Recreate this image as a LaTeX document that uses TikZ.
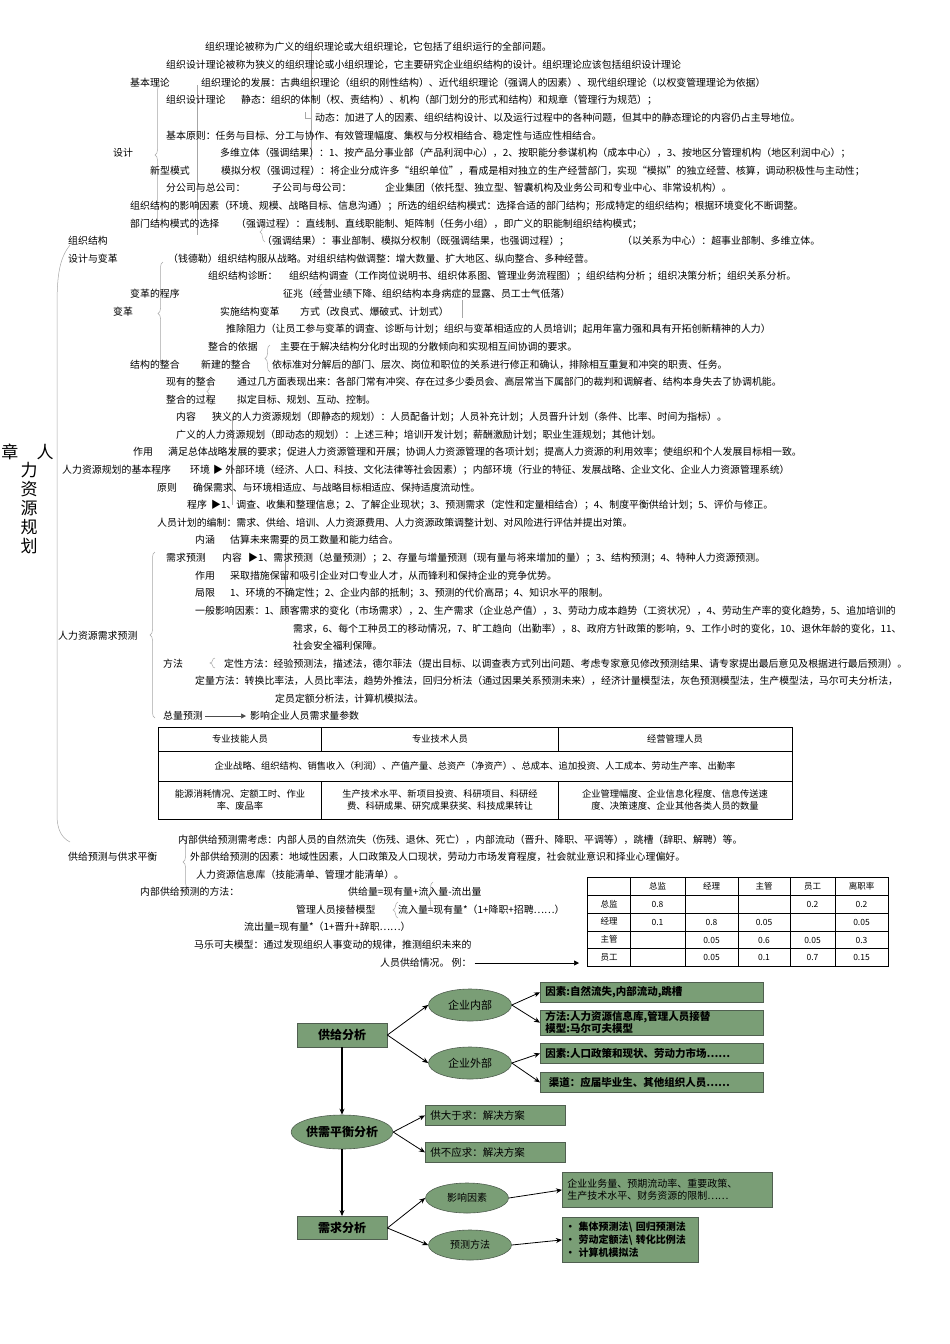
\documentclass[tikz,border=0pt]{standalone}
\usepackage{fontspec}
\setmainfont{Noto Sans CJK SC}
\usetikzlibrary{decorations.pathreplacing,arrows.meta,shapes.geometric}
\definecolor{gfill}{RGB}{122,158,118}
\definecolor{gline}{RGB}{80,95,80}
\tikzset{
 t/.style={anchor=west,inner sep=0pt,font=\fontsize{9.9}{11}\selectfont},
 br/.style={draw=gray!70,line width=0.5pt,decorate,decoration={brace,amplitude=5pt}},
 gbox/.style={draw=gline,fill=gfill,line width=0.8pt,inner xsep=5pt,inner ysep=2pt,anchor=north west,font=\fontsize{10.5}{11}\selectfont\bfseries,align=left},
 gell/.style={draw=gline,fill=gfill,ellipse,line width=0.6pt,font=\fontsize{11}{12}\selectfont},
 ar/.style={-{Stealth[length=6pt,width=5pt]},line width=0.8pt},
}
\begin{document}
\begin{tikzpicture}[x=1pt,y=-1pt]
\useasboundingbox (0,0) rectangle (950,1344);
% title
\node[inner sep=0pt,font=\fontsize{17}{18}\selectfont] (z) at (10,452) {章};
\node[inner sep=0pt,font=\fontsize{17}{18}\selectfont] (ren) at (45,452) {人};
\node[inner sep=0pt,font=\fontsize{17}{19}\selectfont,align=center,anchor=north] (rl) at (29,462) {力\\资\\源\\规\\划};
% braces / guide lines
\draw[gray!70,line width=0.5pt] (70,245) .. controls (58,260) and (57,280) .. (57,310) -- (57,815) .. controls (57,830) and (62,838) .. (70,842);
\draw[br] (160,225) -- (160,85);
\draw[br] (163,365) -- (163,262);
\draw[br] (155,718) -- (155,552);
\draw[br] (188,888) -- (188,836);
\draw[gray!70] (197,85) -- (197,235);
\draw[gray!70] (311,44) -- (311,160);
\draw[gray!70] (305,112) -- (305,118) -- (312,118);
\draw[br] (212,405) -- (212,378);
\draw[br] (270,372) -- (270,345);
\draw[br] (265,242) -- (265,222);
\draw[br] (215,668) -- (215,658);
\draw[br] (322,300) -- (322,284);
\draw[gray!70] (462,300) -- (462,318);
\draw[gray!70] (285,540) -- (285,612);
\draw[gray!70] (232,417) -- (232,505);
\draw[br] (433,912) -- (433,882);
\draw[br] (398,918) -- (398,902);
% text lines
\node[t] (a1) at (205,47) {组织理论被称为广义的组织理论或大组织理论，它包括了组织运行的全部问题。};
\node[t] (a2) at (166,65) {组织设计理论被称为狭义的组织理论或小组织理论，它主要研究企业组织结构的设计。组织理论应该包括组织设计理论};
\node[t] (a3) at (130,83) {基本理论};
\node[t] (a4) at (201,83) {组织理论的发展：古典组织理论（组织的刚性结构）、近代组织理论（强调人的因素）、现代组织理论（以权变管理理论为依据）};
\node[t] (a5) at (166,100) {组织设计理论};
\node[t] (a6) at (241,100) {静态：组织的体制（权、责结构）、机构（部门划分的形式和结构）和规章（管理行为规范）；};
\node[t] (a7) at (315,118) {动态：加进了人的因素、组织结构设计、以及运行过程中的各种问题，但其中的静态理论的内容仍占主导地位。};
\node[t] (a8) at (166,136) {基本原则：任务与目标、分工与协作、有效管理幅度、集权与分权相结合、稳定性与适应性相结合。};
\node[t] (a9) at (113,153) {设计};
\node[t] (a10) at (220,153) {多维立体（强调结果）：1、按产品分事业部（产品利润中心），2、按职能分参谋机构（成本中心），3、按地区分管理机构（地区利润中心）；};
\node[t] (a11) at (150,171) {新型模式};
\node[t] (a12) at (221,171) {模拟分权（强调过程）：将企业分成许多“组织单位”，看成是相对独立的生产经营部门，实现“模拟”的独立经营、核算，调动积极性与主动性；};
\node[t] (a13) at (166,188) {分公司与总公司：};
\node[t] (a14) at (272,188) {子公司与母公司：};
\node[t] (a15) at (385,188) {企业集团（依托型、独立型、智囊机构及业务公司和专业中心、非常设机构）。};
\node[t] (a16) at (130,206) {组织结构的影响因素（环境、规模、战略目标、信息沟通）；所选的组织结构模式：选择合适的部门结构；形成特定的组织结构；根据环境变化不断调整。};
\node[t] (a17) at (130,224) {部门结构模式的选择};
\node[t] (a18) at (236,224) {（强调过程）：直线制、直线职能制、矩阵制（任务小组），即广义的职能制组织结构模式；};
\node[t] (a19) at (68,241) {组织结构};
\node[t] (a20) at (262,241) {（强调结果）：事业部制、模拟分权制（既强调结果，也强调过程）；};
\node[t] (a21) at (622,241) {（以关系为中心）：超事业部制、多维立体。};
\node[t] (a22) at (68,259) {设计与变革};
\node[t] (a23) at (168,259) {（钱德勒）组织结构服从战略。对组织结构做调整：增大数量、扩大地区、纵向整合、多种经营。};
\node[t] (a24) at (208,276) {组织结构诊断：};
\node[t] (a25) at (289,276) {组织结构调查（工作岗位说明书、组织体系图、管理业务流程图）；组织结构分析 ；组织决策分析；组织关系分析。};
\node[t] (a26) at (130,294) {变革的程序};
\node[t] (a27) at (283,294) {征兆（经营业绩下降、组织结构本身病症的显露、员工士气低落）};
\node[t] (a28) at (113,312) {变革};
\node[t] (a29) at (220,312) {实施结构变革};
\node[t] (a30) at (300,312) {方式（改良式、爆破式、计划式）};
\node[t] (a31) at (226,329) {推除阻力（让员工参与变革的调查、诊断与计划；组织与变革相适应的人员培训；起用年富力强和具有开拓创新精神的人力）};
\node[t] (a32) at (208,347) {整合的依据};
\node[t] (a33) at (280,347) {主要在于解决结构分化时出现的分散倾向和实现相互间协调的要求。};
\node[t] (a34) at (130,365) {结构的整合};
\node[t] (a35) at (201,365) {新建的整合};
\node[t] (a36) at (272,365) {依标准对分解后的部门、层次、岗位和职位的关系进行修正和确认，排除相互重复和冲突的职责、任务。};
\node[t] (a37) at (166,382) {现有的整合};
\node[t] (a38) at (237,382) {通过几方面表现出来：各部门常有冲突、存在过多少委员会、高层常当下属部门的裁判和调解者、结构本身失去了协调机能。};
\node[t] (a39) at (166,400) {整合的过程};
\node[t] (a40) at (237,400) {拟定目标、规划、互动、控制。};
\node[t] (b1) at (176,417) {内容};
\node[t] (b2) at (212,417) {狭义的人力资源规划（即静态的规划）：人员配备计划；人员补充计划；人员晋升计划（条件、比率、时间为指标）。};
\node[t] (b3) at (176,435) {广义的人力资源规划（即动态的规划）：上述三种；培训开发计划；薪酬激励计划；职业生涯规划；其他计划。};
\node[t] (b4) at (133,452) {作用};
\node[t] (b5) at (168,452) {满足总体战略发展的要求；促进人力资源管理和开展；协调人力资源管理的各项计划；提高人力资源的利用效率；使组织和个人发展目标相一致。};
\node[t] (b6) at (62,470) {人力资源规划的基本程序};
\node[t] (b7) at (190,470) {环境};
\node[t] (b8) at (213,470) {▶ 外部环境（经济、人口、科技、文化法律等社会因素）；内部环境（行业的特征、发展战略、企业文化、企业人力资源管理系统）};
\node[t] (b9) at (157,488) {原则};
\node[t] (b10) at (193,488) {确保需求、与环境相适应、与战略目标相适应、保持适度流动性。};
\node[t] (b11) at (187,505) {程序};
\node[t] (b12) at (211,505) {▶1、调查、收集和整理信息；2、了解企业现状；3、预测需求（定性和定量相结合）；4、制度平衡供给计划；5、评价与修正。};
\node[t] (b13) at (157,523) {人员计划的编制：需求、供给、培训、人力资源费用、人力资源政策调整计划、对风险进行评估并提出对策。};
\node[t] (c1) at (195,540) {内涵};
\node[t] (c2) at (230,540) {估算未来需要的员工数量和能力结合。};
\node[t] (c3) at (166,558) {需求预测};
\node[t] (c4) at (222,558) {内容};
\node[t] (c5) at (248,558) {▶1、需求预测（总量预测）；2、存量与增量预测（现有量与将来增加的量）；3、结构预测；4、特种人力资源预测。};
\node[t] (c6) at (195,576) {作用};
\node[t] (c7) at (230,576) {采取措施保留和吸引企业对口专业人才，从而锋利和保持企业的竞争优势。};
\node[t] (c8) at (195,593) {局限};
\node[t] (c9) at (230,593) {1、环境的不确定性；2、企业内部的抵制；3、预测的代价高昂；4、知识水平的限制。};
\node[t] (c10) at (195,611) {一般影响因素：1、顾客需求的变化（市场需求），2、生产需求（企业总产值），3、劳动力成本趋势（工资状况），4、劳动生产率的变化趋势，5、追加培训的};
\node[t] (c11) at (293,629) {需求，6、每个工种员工的移动情况，7、旷工趋向（出勤率），8、政府方针政策的影响，9、工作小时的变化，10、退休年龄的变化，11、};
\node[t] (c12) at (58,636) {人力资源需求预测};
\node[t] (c13) at (293,646) {社会安全福利保障。};
\node[t] (c14) at (163,664) {方法};
\node[t] (c15) at (224,664) {定性方法：经验预测法，描述法，德尔菲法（提出目标、以调查表方式列出问题、考虑专家意见修改预测结果、请专家提出最后意见及根据进行最后预测）。};
\node[t] (c16) at (195,681) {定量方法：转换比率法，人员比率法，趋势外推法，回归分析法（通过因果关系预测未来），经济计量模型法，灰色预测模型法，生产模型法，马尔可夫分析法，};
\node[t] (c17) at (275,699) {定员定额分析法，计算机模拟法。};
\node[t] (c18) at (163,716) {总量预测};
\node[t] (c19) at (250,716) {影响企业人员需求量参数};
\draw[-{Triangle[length=5pt,width=5pt]},gray!60!black,line width=0.5pt] ([xshift=2pt]c18.east) -- ([xshift=-4pt]c19.west);
% table 1
\draw[line width=0.6pt] (158,727) rectangle (792,819);
\draw[line width=0.6pt] (158,751) -- (792,751) (158,781) -- (792,781);
\draw[line width=0.6pt] (321,727) -- (321,751) (558,727) -- (558,751) (321,781) -- (321,819) (558,781) -- (558,819);
\tikzset{tc/.style={inner sep=0pt,font=\fontsize{9.3}{11.5}\selectfont,align=center}}
\node[tc] (h1) at (240,739) {专业技能人员};
\node[tc] (h2) at (440,739) {专业技术人员};
\node[tc] (h3) at (675,739) {经营管理人员};
\node[tc] (r1) at (475,766) {企业战略、组织结构、销售收入（利润）、产值产量、总资产（净资产）、总成本、追加投资、人工成本、劳动生产率、出勤率};
\node[tc] (r2) at (240,800) {能源消耗情况、定额工时、作业\\率、废品率};
\node[tc] (r3) at (440,800) {生产技术水平、新项目投资、科研项目、科研经\\费、科研成果、研究成果获奖、科技成果转让};
\node[tc] (r4) at (675,800) {企业管理幅度、企业信息化程度、信息传送速\\度、决策速度、企业其他各类人员的数量};
% supply
\node[t] (d1) at (178,840) {内部供给预测需考虑：内部人员的自然流失（伤残、退休、死亡），内部流动（晋升、降职、平调等），跳槽（辞职、解聘）等。};
\node[t] (d2) at (68,857) {供给预测与供求平衡};
\node[t] (d3) at (190,857) {外部供给预测的因素：地域性因素，人口政策及人口现状，劳动力市场发育程度，社会就业意识和择业心理偏好。};
\node[t] (d4) at (196,875) {人力资源信息库（技能清单、管理才能清单）。};
\node[t] (d5) at (140,892) {内部供给预测的方法：};
\node[t] (d6) at (348,892) {供给量=现有量+流入量-流出量};
\node[t] (d7) at (296,910) {管理人员接替模型};
\node[t] (d8) at (398,910) {流入量=现有量*（1+降职+招聘……）};
\node[t] (d9) at (244,927) {流出量=现有量*（1+晋升+辞职……）};
\node[t] (d10) at (194,945) {马乐可夫模型：通过发现组织人事变动的规律，推测组织未来的};
\node[t] (d11) at (380,963) {人员供给情况。 例：};
% matrix table
\coordinate (tb) at (579,963);
\draw[line width=0.5pt] (587,877) rectangle (888,966);
\foreach \y in {895,913,931,948} \draw[line width=0.5pt] (587,\y) -- (888,\y);
\foreach \x in {630,685,738,790,835} \draw[line width=0.5pt] (\x,877) -- (\x,966);
\draw[-{Triangle[length=5pt,width=5pt]},line width=0.5pt] ([xshift=3pt]d11.east) -- (tb);
\tikzset{mc/.style={inner sep=0pt,font=\fontsize{8.5}{9}\selectfont}}
\foreach \s [count=\i] in {总监,经理,主管,员工,离职率}{
 \pgfmathsetmacro\xx{{0,657.5,711.5,764,812.5,861.5}[\i]}
 \node[mc] at (\xx,886) {\s};}
\foreach \s [count=\i] in {总监,经理,主管,员工}{
 \node[mc] at (609,886+\i*17.8) {\s};}
\node[mc] at (657.5,904) {0.8}; \node[mc] at (812.5,904) {0.2}; \node[mc] at (861.5,904) {0.2};
\node[mc] at (657.5,922) {0.1}; \node[mc] at (711.5,922) {0.8}; \node[mc] at (764,922) {0.05}; \node[mc] at (861.5,922) {0.05};
\node[mc] at (711.5,940) {0.05}; \node[mc] at (764,940) {0.6}; \node[mc] at (812.5,940) {0.05}; \node[mc] at (861.5,940) {0.3};
\node[mc] at (711.5,957) {0.05}; \node[mc] at (764,957) {0.1}; \node[mc] at (812.5,957) {0.7}; \node[mc] at (861.5,957) {0.15};
% flowchart
\node[draw=gline,fill=gfill,line width=0.8pt,minimum width=90pt,minimum height=24pt,font=\fontsize{12}{13}\selectfont\bfseries] (gj) at (342,1035) {供给分析};
\node[gell,minimum width=83pt,minimum height=32pt] (nb) at (470,1005) {企业内部};
\node[gell,minimum width=83pt,minimum height=32pt] (wb) at (470,1063) {企业外部};
\node[gbox,text width=213pt,minimum height=20pt] (y1) at (540,982) {因素:自然流失,内部流动,跳槽};
\node[gbox,text width=213pt,minimum height=24pt,inner ysep=1pt,font=\fontsize{10.5}{11}\selectfont\bfseries] (y2) at (540,1010) {方法:人力资源信息库,管理人员接替\\模型:马尔可夫模型};
\node[gbox,text width=213pt,minimum height=20pt] (y3) at (540,1043) {因素:人口政策和现状、劳动力市场……};
\node[gbox,text width=213pt,minimum height=20pt] (y4) at (540,1072) {\ 渠道：应届毕业生、其他组织人员……};
\node[gell,minimum width=90pt,minimum height=34pt,font=\fontsize{12}{13}\selectfont\bfseries,inner sep=0pt] (ph) at (342,1132) {供需平衡分析};
\node[gbox,text width=130pt,minimum height=20pt,font=\fontsize{10.5}{11}\selectfont] (p1) at (425,1105) {供大于求：解决方案};
\node[gbox,text width=130pt,minimum height=20pt,font=\fontsize{10.5}{11}\selectfont] (p2) at (425,1142) {供不应求：解决方案};
\node[draw=gline,fill=gfill,line width=0.8pt,minimum width=90pt,minimum height=23pt,font=\fontsize{12}{13}\selectfont\bfseries] (xq) at (342,1228) {需求分析};
\node[gell,minimum width=83pt,minimum height=30pt,font=\fontsize{10}{12}\selectfont] (yx) at (467,1198) {影响因素};
\node[gell,minimum width=83pt,minimum height=30pt,font=\fontsize{10}{12}\selectfont] (yc) at (470,1245) {预测方法};
\node[gbox,text width=200pt,minimum height=35pt,font=\fontsize{10}{12}\selectfont,inner ysep=4pt] (q1) at (562,1172) {企业业务量、预期流动率、重要政策、\\生产技术水平、财务资源的限制……};
\node[gbox,text width=130pt,minimum height=45pt,inner xsep=3pt,inner ysep=3pt,font=\fontsize{10}{13}\selectfont\bfseries] (q2) at (562,1217) {• 集体预测法\textbackslash\ 回归预测法\\• 劳动定额法\textbackslash\ 转化比例法\\• 计算机模拟法};
\draw[ar] (gj.east) -- (nb.west);
\draw[ar] (gj.east) -- (wb.west);
\draw[ar] (nb.east) -- (y1.west);
\draw[ar] (nb.east) -- (y2.west);
\draw[ar] (wb.east) -- (y3.west);
\draw[ar] (wb.east) -- (y4.west);
\draw[ar,line width=1.2pt] (gj.south) -- (ph.north);
\draw[ar] (ph.east) -- (p1.west);
\draw[ar] (ph.east) -- (p2.west);
\draw[ar,line width=1.2pt] (ph.south) -- (xq.north);
\draw[ar] (xq.east) -- (yx.west);
\draw[ar] (xq.east) -- (yc.west);
\draw[ar] (yx.east) -- (q1.west);
\draw[ar] (yc.east) -- (q2.west);
\end{tikzpicture}
\end{document}
